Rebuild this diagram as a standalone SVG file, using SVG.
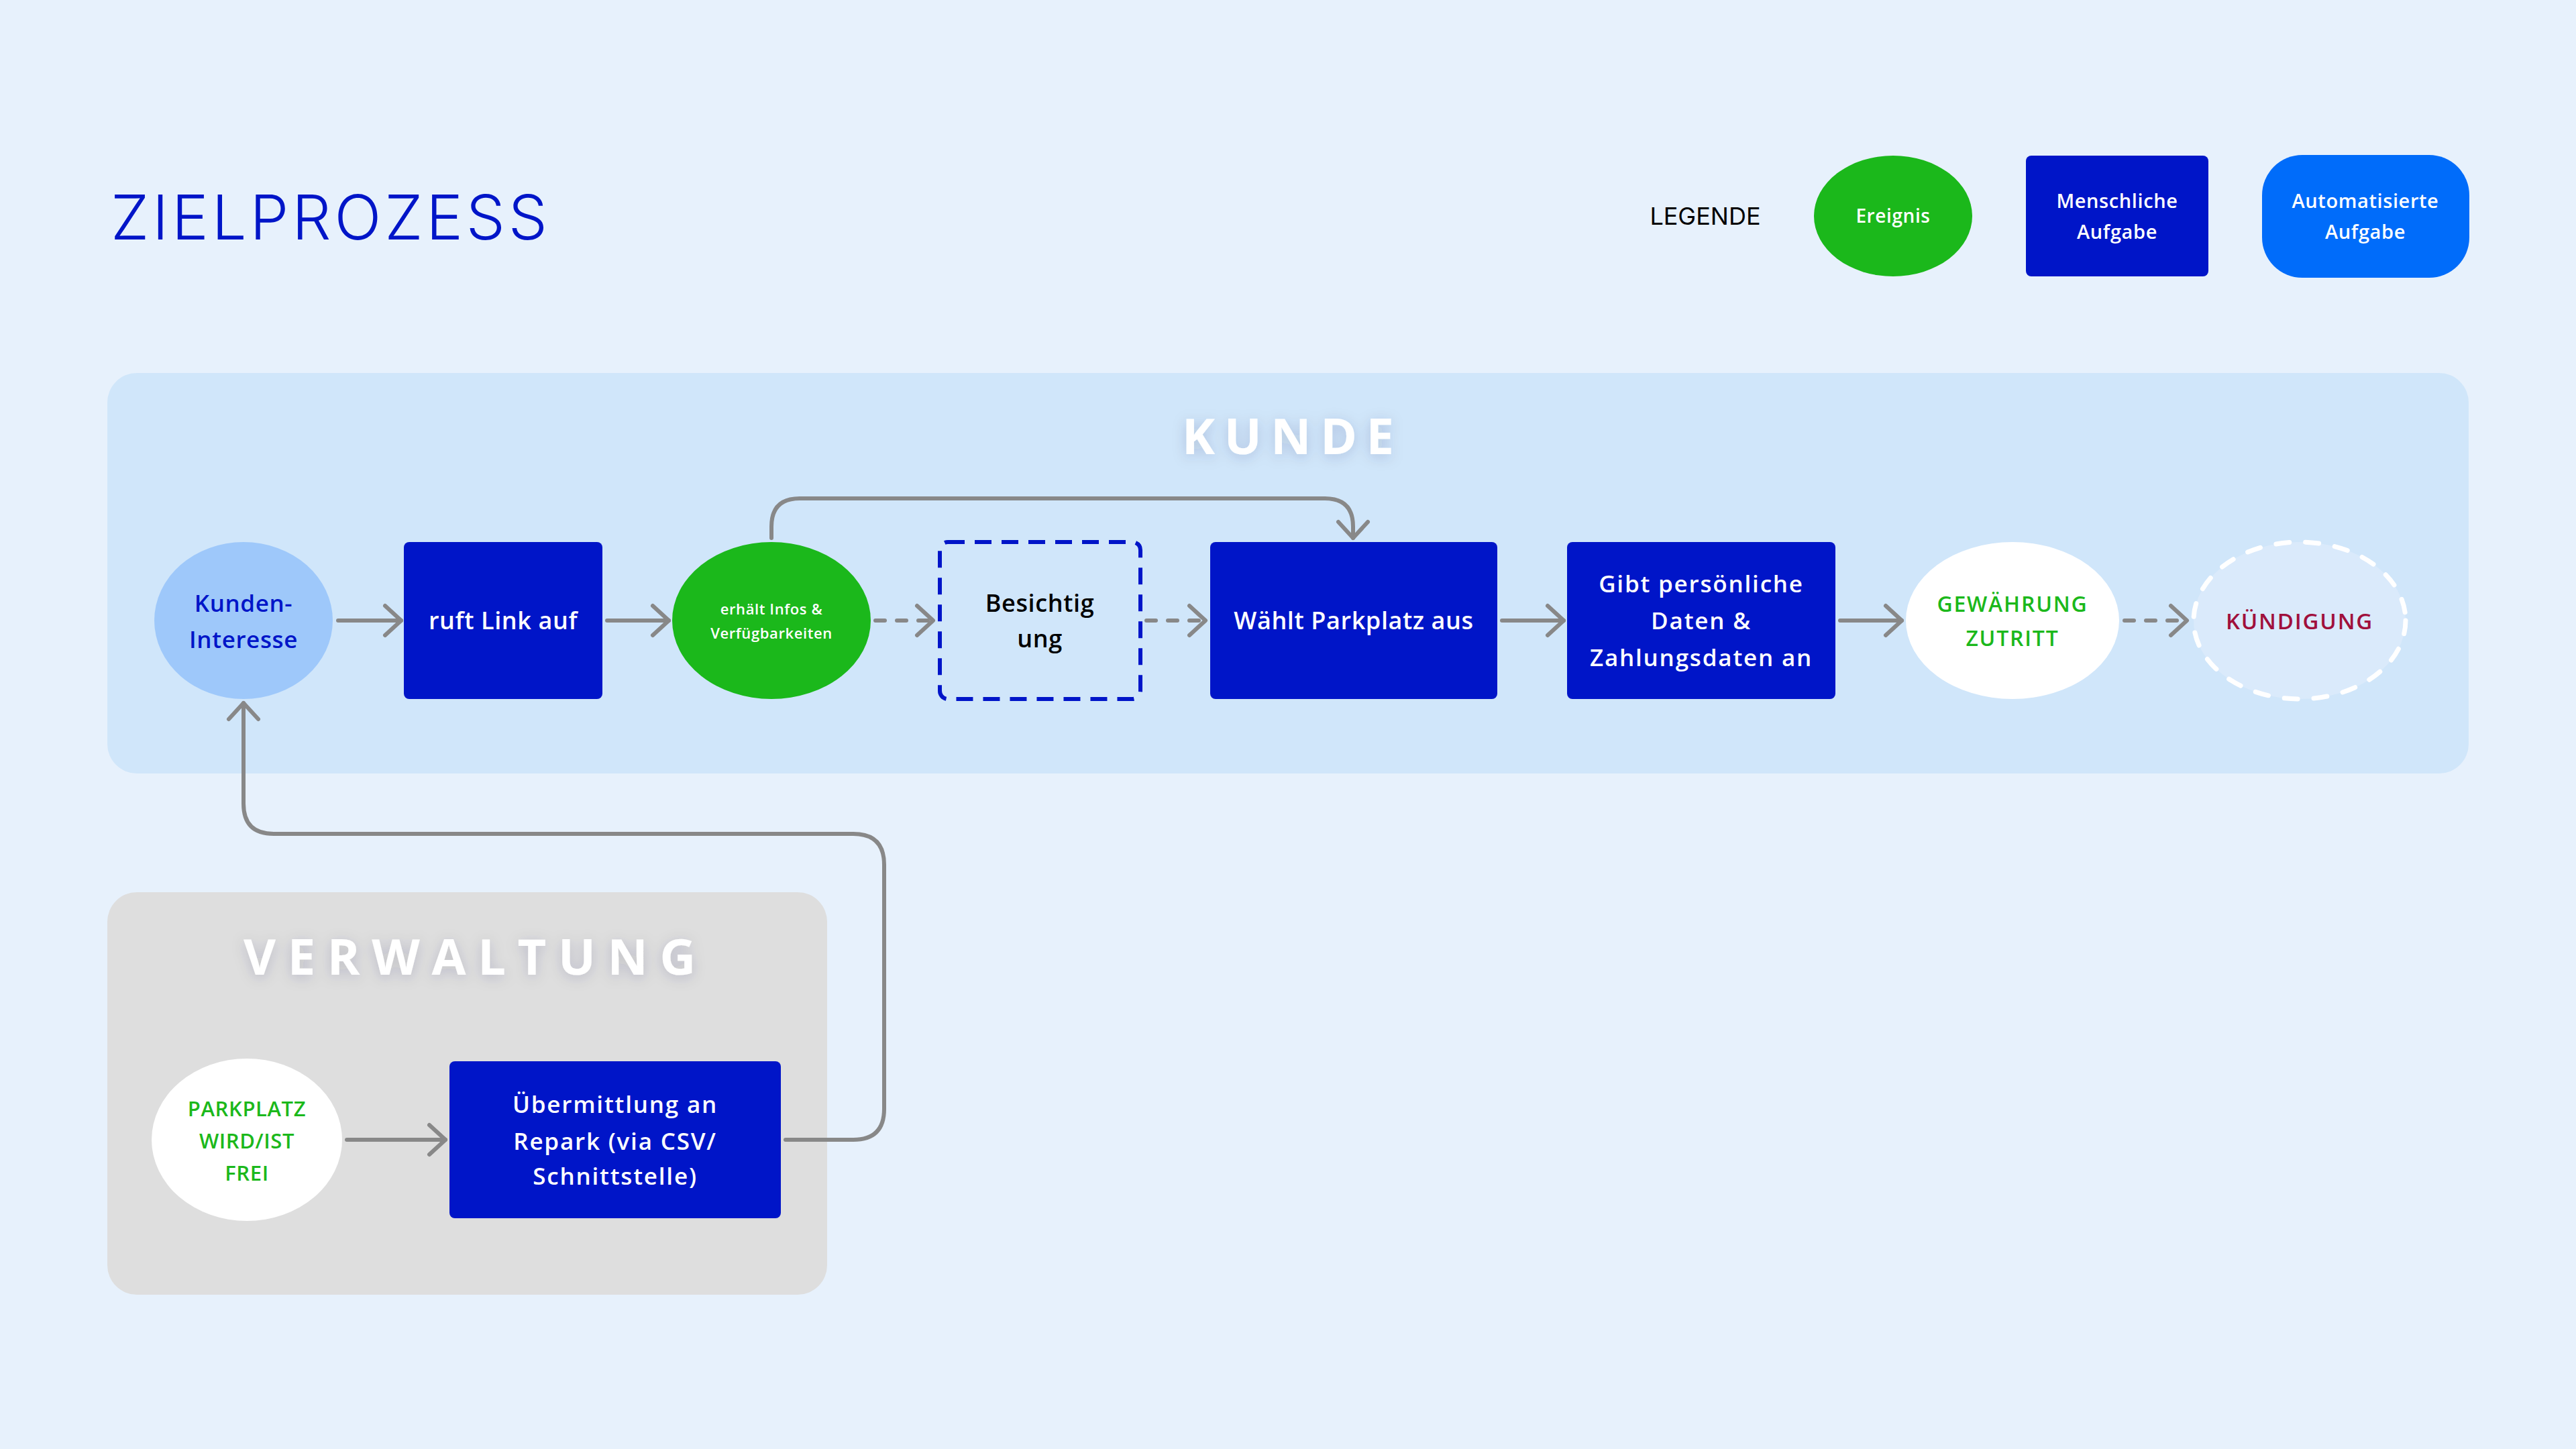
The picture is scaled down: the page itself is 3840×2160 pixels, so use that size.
<svg xmlns="http://www.w3.org/2000/svg" width="3840" height="2160" viewBox="0 0 3840 2160">
  <defs>
    <style>
      .t { font-family: "Open Sans", "Liberation Sans", sans-serif; font-weight: 600; text-anchor: middle; letter-spacing: 0.6px; }
      .w { fill: #ffffff; }
      .wide { letter-spacing: 1.8px; }
      .task { fill: #0015C8; }
      .conn { fill: none; stroke: #888888; stroke-width: 6; stroke-linecap: round; stroke-linejoin: round; }
      .dash { stroke-dasharray: 14 18; }
      .lanetitle { font-family: "Open Sans", "Liberation Sans", sans-serif; font-weight: 700; font-size: 74px; fill: #ffffff; text-anchor: middle; }
    </style>
    <marker id="arr" markerUnits="userSpaceOnUse" markerWidth="40" markerHeight="60" viewBox="0 0 40 60" refX="30" refY="30" orient="auto">
      <path d="M6,8 L30,30 L6,52" fill="none" stroke="#888888" stroke-width="6" stroke-linecap="round" stroke-linejoin="round"/>
    </marker>
    <filter id="shadow" x="-20%" y="-50%" width="140%" height="200%">
      <feDropShadow dx="0" dy="4" stdDeviation="10" flood-color="#1a2a50" flood-opacity="0.18"/>
    </filter>
  </defs>

  <rect x="0" y="0" width="3840" height="2160" fill="#E7F1FC"/>

  <!-- Title -->
  <g id="title">
    <text x="165" y="357" font-family="Inter, 'Open Sans', sans-serif" font-weight="300" font-size="92" fill="#0015C8" textLength="651" lengthAdjust="spacing">ZIELPROZESS</text>
  </g>

  <!-- Legend -->
  <g id="legend">
    <text x="2542" y="335" font-family="Inter, 'Open Sans', sans-serif" font-weight="400" font-size="36" fill="#000000" text-anchor="middle">LEGENDE</text>
    <g id="legend-ereignis">
      <ellipse cx="2822" cy="322" rx="118" ry="90" fill="#1BB81B"/>
      <text class="t w" x="2822" y="332" font-size="28">Ereignis</text>
    </g>
    <g id="legend-mensch">
      <rect x="3020" y="232" width="272" height="180" rx="8" fill="#0015C8"/>
      <text class="t w" x="3156" y="310" font-size="29">Menschliche</text>
      <text class="t w" x="3156" y="356" font-size="29">Aufgabe</text>
    </g>
    <g id="legend-auto">
      <rect x="3372" y="231" width="309" height="183" rx="60" fill="#006CFA"/>
      <text class="t w" x="3526" y="310" font-size="29">Automatisierte</text>
      <text class="t w" x="3526" y="356" font-size="29">Aufgabe</text>
    </g>
  </g>

  <!-- Lanes -->
  <g id="lane-kunde">
    <rect x="160" y="556" width="3520" height="597" rx="44" fill="#D0E6FA"/>
    <text class="lanetitle" x="1920" y="677" textLength="316" lengthAdjust="spacing" filter="url(#shadow)">KUNDE</text>
  </g>
  <g id="lane-verwaltung">
    <rect x="160" y="1330" width="1073" height="600" rx="44" fill="#DEDEDE"/>
    <text class="lanetitle" x="700" y="1453" textLength="674" lengthAdjust="spacing" filter="url(#shadow)">VERWALTUNG</text>
  </g>

  <!-- Connectors -->
  <g id="connectors">
    <path class="conn" d="M504,925 H598" marker-end="url(#arr)"/>
    <path class="conn" d="M905,925 H997" marker-end="url(#arr)"/>
    <path class="conn dash" d="M1305,925 H1391" marker-end="url(#arr)"/>
    <path class="conn dash" d="M1709,925 H1797" marker-end="url(#arr)"/>
    <path class="conn" d="M2239,925 H2331" marker-end="url(#arr)"/>
    <path class="conn" d="M2743,925 H2835" marker-end="url(#arr)"/>
    <path class="conn dash" d="M3167,925 H3260" marker-end="url(#arr)"/>
    <path class="conn" d="M1150,802 V785 Q1150,743 1192,743 H1975 Q2017,743 2017,785 V802" marker-end="url(#arr)"/>
    <path class="conn" d="M517,1699 H664" marker-end="url(#arr)"/>
    <path class="conn" d="M1171,1699 H1272 Q1318,1699 1318,1653 V1289 Q1318,1243 1272,1243 H408 Q363,1243 363,1198 V1048" marker-end="url(#arr)"/>
  </g>

  <!-- KUNDE nodes -->
  <g id="n-kunden-interesse">
    <ellipse cx="363" cy="925" rx="133" ry="117" fill="#9EC8FA"/>
    <text class="t" x="363" y="912" font-size="35" fill="#0015C8">Kunden-</text>
    <text class="t" x="363" y="966" font-size="35" fill="#0015C8">Interesse</text>
  </g>
  <g id="n-ruft-link">
    <rect x="602" y="808" width="296" height="234" rx="8" class="task"/>
    <text class="t w" x="750" y="938" font-size="36">ruft Link auf</text>
  </g>
  <g id="n-erhaelt-infos">
    <ellipse cx="1150" cy="925" rx="148" ry="117" fill="#1BB81B"/>
    <text class="t w" x="1150" y="916" font-size="22">erhält Infos &amp;</text>
    <text class="t w" x="1150" y="952" font-size="22">Verfügbarkeiten</text>
  </g>
  <g id="n-besichtigung">
    <rect x="1401" y="808" width="299" height="234" rx="12" fill="none" stroke="#0015C8" stroke-width="6" stroke-dasharray="25 15"/>
    <text class="t" x="1550" y="912" font-size="36" fill="#000000">Besichtig</text>
    <text class="t" x="1550" y="965" font-size="36" fill="#000000">ung</text>
  </g>
  <g id="n-waehlt-parkplatz">
    <rect x="1804" y="808" width="428" height="234" rx="8" class="task"/>
    <text class="t w" x="2018" y="938" font-size="36">Wählt Parkplatz aus</text>
  </g>
  <g id="n-gibt-daten">
    <rect x="2336" y="808" width="400" height="234" rx="8" class="task"/>
    <text class="t w wide" x="2536" y="883" font-size="35">Gibt persönliche</text>
    <text class="t w wide" x="2536" y="938" font-size="35">Daten &amp;</text>
    <text class="t w wide" x="2536" y="993" font-size="35">Zahlungsdaten an</text>
  </g>
  <g id="n-gewaehrung">
    <ellipse cx="3000" cy="925" rx="159" ry="117" fill="#FFFFFF"/>
    <text class="t wide" x="3000" y="912" font-size="32" fill="#1BB81B">GEWÄHRUNG</text>
    <text class="t wide" x="3000" y="963" font-size="32" fill="#1BB81B">ZUTRITT</text>
  </g>
  <g id="n-kuendigung">
    <ellipse cx="3428" cy="925" rx="158" ry="117" fill="#DAEAFB" stroke="#FFFFFF" stroke-width="7" stroke-dasharray="20 24" stroke-linecap="round"/>
    <text class="t wide" x="3428" y="938" font-size="33" fill="#A0103C">KÜNDIGUNG</text>
  </g>

  <!-- VERWALTUNG nodes -->
  <g id="n-parkplatz-frei">
    <ellipse cx="368" cy="1699" rx="142" ry="121" fill="#FFFFFF"/>
    <text class="t" x="368" y="1664" font-size="31" fill="#1BB81B">PARKPLATZ</text>
    <text class="t" x="368" y="1712" font-size="31" fill="#1BB81B">WIRD/IST</text>
    <text class="t" x="368" y="1760" font-size="31" fill="#1BB81B">FREI</text>
  </g>
  <g id="n-uebermittlung">
    <rect x="670" y="1582" width="494" height="234" rx="8" class="task"/>
    <text class="t w wide" x="917" y="1659" font-size="35">Übermittlung an</text>
    <text class="t w wide" x="917" y="1714" font-size="35">Repark (via CSV/</text>
    <text class="t w wide" x="917" y="1766" font-size="35">Schnittstelle)</text>
  </g>
</svg>
